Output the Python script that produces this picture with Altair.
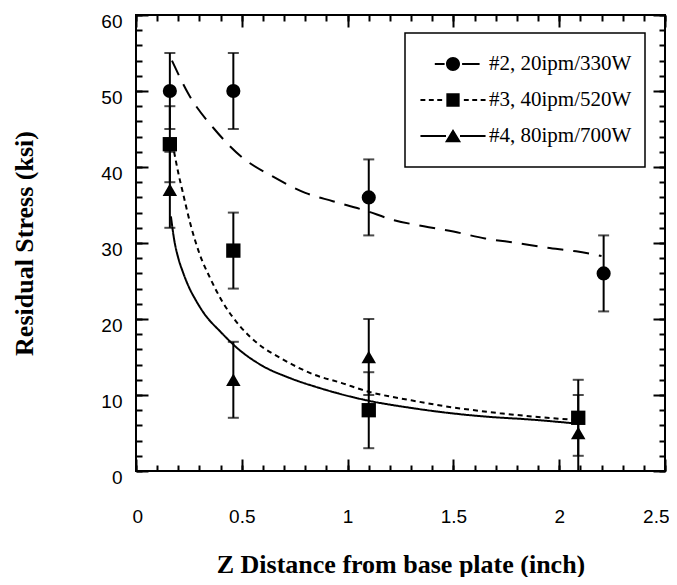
import altair as alt
import pandas as pd

# ---------------- data ----------------
series = ["#2, 20ipm/330W", "#3, 40ipm/520W", "#4, 80ipm/700W"]

# measured points with error bars
s2_x = [0.16, 0.46, 1.10, 2.21]
s2_y = [50, 50, 36, 26]
s2_lo = [45, 45, 31, 21]
s2_hi = [55, 55, 41, 31]

s3_x = [0.16, 0.46, 1.10, 2.09]
s3_y = [43, 29, 8, 7]
s3_lo = [38, 24, 3, 2]
s3_hi = [48, 34, 13, 12]

s4_x = [0.16, 0.46, 1.10, 2.09]
s4_y = [37, 12, 15, 5]
s4_lo = [32, 7, 10, 0]
s4_hi = [42, 17, 20, 10]

# fitted curves
fit2_x = [0.17, 0.25, 0.37, 0.50, 0.65, 0.80, 0.93, 1.08, 1.22, 1.36, 1.50, 1.65, 1.80, 1.94, 2.08, 2.20]
fit2_y = [54.0, 49.5, 45.0, 41.3, 38.7, 36.6, 35.5, 34.3, 33.0, 32.2, 31.5, 30.6, 30.0, 29.4, 28.9, 28.3]

fit3_x = [0.18, 0.20, 0.22, 0.26, 0.30, 0.35, 0.41, 0.49, 0.57, 0.70, 0.84, 0.97, 1.09, 1.30, 1.49, 1.72, 1.90, 2.09]
fit3_y = [42.0, 39.2, 36.8, 32.2, 28.6, 25.4, 22.2, 19.1, 16.9, 14.6, 12.7, 11.6, 10.5, 9.3, 8.4, 7.6, 7.1, 6.7]

fit4_x = [0.165, 0.18, 0.20, 0.22, 0.25, 0.28, 0.32, 0.40, 0.49, 0.60, 0.73, 0.87, 0.97, 1.09, 1.30, 1.49, 1.68, 1.85, 2.06]
fit4_y = [33.5, 30.5, 28.0, 26.3, 24.2, 22.6, 20.8, 18.3, 15.9, 13.8, 12.2, 10.9, 10.1, 9.3, 8.3, 7.6, 7.1, 6.8, 6.3]

# axis ticks
x_major = [0, 0.5, 1, 1.5, 2, 2.5]
x_minor = [0, 0.1, 0.2, 0.3, 0.4, 0.5, 0.6, 0.7, 0.8, 0.9, 1.0, 1.1, 1.2,
           1.3, 1.4, 1.5, 1.6, 1.7, 1.8, 1.9, 2.0, 2.1, 2.2, 2.3, 2.4, 2.5]
y_major = [0, 10, 20, 30, 40, 50, 60]
y_minor = [0, 2, 4, 6, 8, 10, 12, 14, 16, 18, 20, 22, 24, 26, 28, 30,
           32, 34, 36, 38, 40, 42, 44, 46, 48, 50, 52, 54, 56, 58, 60]

# ---------------- tables ----------------
pts_rows = []
for name, xs_, ys_, los, his in [
    (series[0], s2_x, s2_y, s2_lo, s2_hi),
    (series[1], s3_x, s3_y, s3_lo, s3_hi),
    (series[2], s4_x, s4_y, s4_lo, s4_hi),
]:
    for a, b, c, d in zip(xs_, ys_, los, his):
        pts_rows.append({"series": name, "x": a, "y": b, "lo": c, "hi": d})
df_pts = pd.DataFrame(pts_rows)

caps = pd.concat([
    df_pts[["series", "x", "lo"]].rename(columns={"lo": "v"}),
    df_pts[["series", "x", "hi"]].rename(columns={"hi": "v"}),
], ignore_index=True)

fit_rows = []
for name, fx, fy in [(series[0], fit2_x, fit2_y), (series[1], fit3_x, fit3_y), (series[2], fit4_x, fit4_y)]:
    for a, b in zip(fx, fy):
        fit_rows.append({"series": name, "x": a, "y": b})
df_fit = pd.DataFrame(fit_rows)

# ---------------- legend symbols (line + marker drawn as one path) ----------------
H = 0.03


def seg(x0, x1):
    return f"M{x0},{-H}L{x1},{-H}L{x1},{H}L{x0},{H}Z"


r = 0.2
k = 0.1105
circle_p = (f"M{r},0C{r},{k} {k},{r} 0,{r}C{-k},{r} {-r},{k} {-r},0"
            f"C{-r},{-k} {-k},{-r} 0,{-r}C{k},{-r} {r},{-k} {r},0Z")
square_p = "M-0.19,-0.19L0.19,-0.19L0.19,0.19L-0.19,0.19Z"
tri_p = "M-0.23,0.18L0,-0.2L0.23,0.18Z"

leg2 = seg(-0.52, -0.24) + seg(0.26, 0.76) + circle_p
leg3 = (seg(-0.93, -0.79) + seg(-0.69, -0.55) + seg(-0.45, -0.31)
        + seg(0.31, 0.45) + seg(0.55, 0.69) + seg(0.79, 0.93) + square_p)
leg4 = seg(-0.93, -0.2) + seg(0.2, 0.93) + tri_p
legend_paths = [leg2, leg3, leg4]

# ---------------- scales & axes ----------------
xs = alt.Scale(domain=[0, 2.5], nice=False, zero=False)
ys = alt.Scale(domain=[0, 60], nice=False, zero=False)

LBL = dict(labelFont="Liberation Sans", labelFontSize=19, labelColor="black")
TTL = dict(titleFont="Liberation Serif", titleFontSize=26, titleFontWeight="bold", titleColor="black")
TK = dict(tickColor="black", tickWidth=2, domain=False, grid=False)

ax_xb_major = alt.Axis(orient="bottom", values=x_major, format="~g", offset=-12, tickSize=12,
                       labelPadding=36, labelFlush=True, labelFlushOffset=4,
                       title="Z Distance from base plate (inch)", titlePadding=25,
                       **LBL, **TTL, **TK)
ax_xb_minor = alt.Axis(orient="bottom", values=x_minor, offset=-6, tickSize=6, labels=False, title=None, **TK)
ax_xt_major = alt.Axis(orient="top", values=x_major, offset=-12, tickSize=12, labels=False, title=None, **TK)
ax_xt_minor = alt.Axis(orient="top", values=x_minor, offset=-6, tickSize=6, labels=False, title=None, **TK)

ax_yl_major = alt.Axis(orient="left", values=y_major, format="d", offset=-12, tickSize=12,
                       labelPadding=14, labelOffset=6, title="Residual Stress (ksi)", titlePadding=63,
                       **LBL, **TTL, **TK)
ax_yl_minor = alt.Axis(orient="left", values=y_minor, offset=-6, tickSize=6, labels=False, title=None, **TK)
ax_yr_major = alt.Axis(orient="right", values=y_major, offset=-12, tickSize=12, labels=False, title=None, **TK)
ax_yr_minor = alt.Axis(orient="right", values=y_minor, offset=-6, tickSize=6, labels=False, title=None, **TK)

# ---------------- layers ----------------
err = alt.Chart(df_pts).mark_rule(color="black", strokeWidth=2).encode(
    x=alt.X("x:Q", scale=xs, axis=ax_xb_major),
    y=alt.Y("lo:Q", scale=ys, axis=ax_yl_major),
    y2="hi:Q",
)

cap = alt.Chart(caps).mark_tick(color="black", orient="horizontal", size=11, thickness=2).encode(
    x=alt.X("x:Q", scale=xs, axis=ax_xb_minor),
    y=alt.Y("v:Q", scale=ys, axis=ax_yl_minor),
)

fits = alt.Chart(df_fit).mark_line(color="black", strokeWidth=2, interpolate="monotone").encode(
    x=alt.X("x:Q", scale=xs, axis=ax_xt_major),
    y=alt.Y("y:Q", scale=ys, axis=ax_yr_major),
    strokeDash=alt.StrokeDash("series:N", scale=alt.Scale(domain=series, range=[[16, 10], [5, 4], [1, 0]]),
                              legend=None),
    detail="series:N",
)

marks = alt.Chart(df_pts).mark_point(filled=True, color="black", opacity=1).encode(
    x=alt.X("x:Q", scale=xs, axis=ax_xt_minor),
    y=alt.Y("y:Q", scale=ys, axis=ax_yr_minor),
    shape=alt.Shape("series:N", scale=alt.Scale(domain=series, range=["circle", "square", "triangle-up"]),
                    legend=None),
    size=alt.Size("series:N", scale=alt.Scale(domain=series, range=[200, 210, 230]), legend=None),
)

legend_layer = alt.Chart(df_pts).transform_filter("datum.y < -1000").mark_point(
    filled=True, color="black", opacity=1
).encode(
    x=alt.X("x:Q", scale=xs, axis=None),
    y=alt.Y("y:Q", scale=ys, axis=None),
    shape=alt.Shape("series:N", scale=alt.Scale(domain=series, range=legend_paths),
                    legend=alt.Legend(orient="none", legendX=269, legendY=18, title=None,
                                      symbolSize=4900, clipHeight=36, padding=13,
                                      labelOffset=1, rowPadding=0,
                                      labelFont="Liberation Serif", labelFontSize=21,
                                      labelColor="black", labelLimit=300)),
)

chart = alt.layer(err, cap, fits, marks, legend_layer).resolve_axis(
    x="independent", y="independent"
).resolve_scale(shape="independent", size="independent").properties(
    width=529, height=456,
    autosize=alt.AutoSizeParams(type="none"),
    padding={"left": 128, "top": 7, "right": 4, "bottom": 106},
).configure_view(stroke="black", strokeWidth=2).configure_legend(
    strokeColor="black", strokeWidth=1.5, fillColor="white",
    symbolFillColor="black", symbolStrokeColor="black", symbolStrokeWidth=0,
)

chart.save("out.html", embed_options={"renderer": "svg", "actions": False})
